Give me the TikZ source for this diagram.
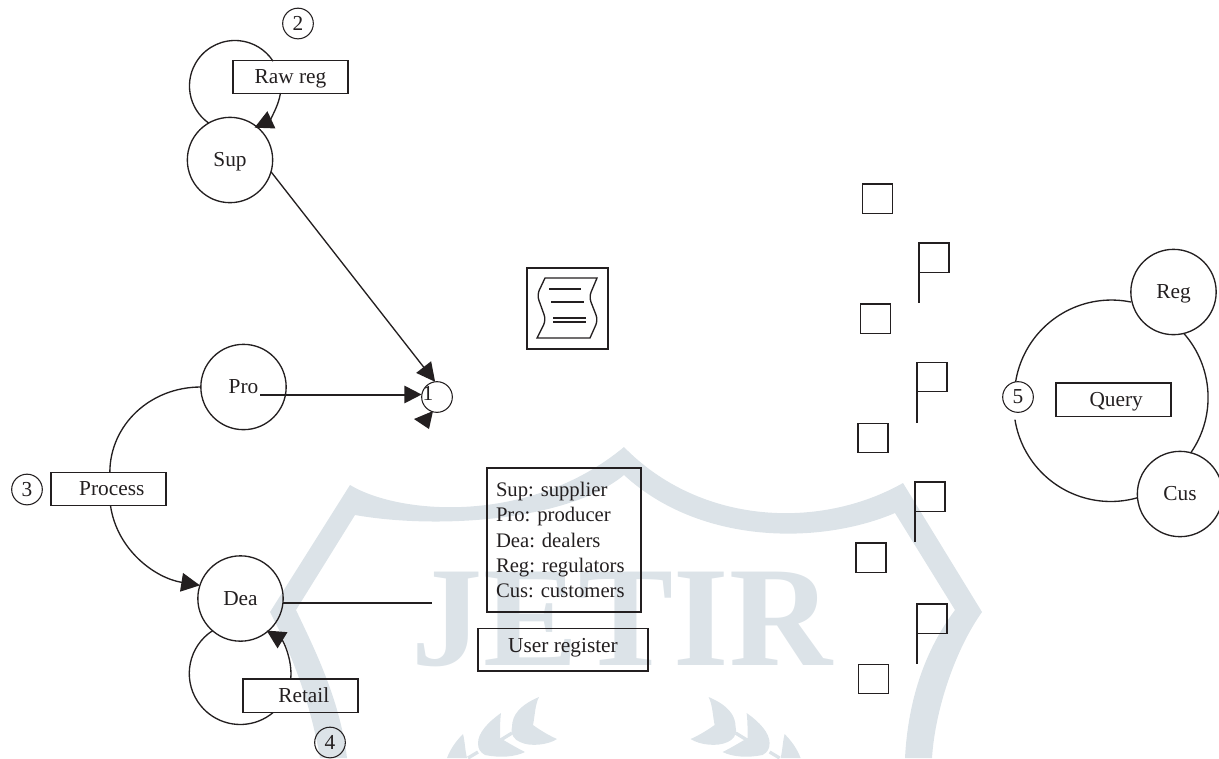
\documentclass[tikz,border=0pt]{standalone}
\usepackage{fontspec}
\setmainfont{Liberation Serif}
\usetikzlibrary{arrows.meta,calc}
\definecolor{ink}{HTML}{231F20}
\definecolor{wm}{HTML}{DCE3E8}
\tikzset{
  lbl/.style={font=\fontsize{16}{19}\selectfont,text=ink,text height=10pt,text depth=0pt},
  actor/.style={circle,draw=ink,line width=1pt,inner sep=0pt,outer sep=0pt,minimum size=64pt,lbl},
  numc/.style={circle,draw=ink,line width=.8pt,inner sep=0pt,outer sep=0pt,minimum size=23pt,lbl},
  opbox/.style={rectangle,draw=ink,line width=1pt,inner sep=0pt,outer sep=0pt,minimum width=86.25pt,minimum height=25pt,lbl},
  sq/.style={rectangle,draw=ink,line width=1pt,inner sep=0pt,outer sep=0pt,minimum width=22.5pt,minimum height=22pt},
  link/.style={draw=ink,line width=1pt},
  tri/.style={link,-{Triangle[length=14pt,width=14pt]}},
  trib/.style={draw=ink,line width=1.5pt,-{Triangle[length=13pt,width=13pt]}},
  pole/.style={draw=ink,line width=1pt},
}
\newcommand{\laurel}{%
  \fill[wm] (539,697) .. controls (520,705) and (512,715) .. (512,727) .. controls (510,735) and (515,740) .. (520,742) .. controls (530,747) and (548,745) .. (557,739) .. controls (548,735) and (540,730) .. (533,725) .. controls (535,715) and (535,705) .. (539,697) -- cycle;
  \fill[wm] (501,713) .. controls (488,722) and (478,733) .. (478,743) .. controls (478,749) and (480,752) .. (485,755) .. controls (500,758) and (515,757) .. (525,752) .. controls (515,747) and (507,742) .. (500,738) .. controls (500,730) and (500,720) .. (501,713) -- cycle;
  \fill[wm] (463,734) .. controls (455,742) and (450,750) .. (447,758) -- (467,758) .. controls (465,750) and (465,742) .. (463,734) -- cycle;
  \draw[wm,line width=2.5pt] (512,733) -- (499,741);
  \draw[wm,line width=2.5pt] (478,752) -- (468,758);
}
\frenchspacing
\begin{document}
\begin{tikzpicture}[x=0.75pt,y=-0.75pt]
\useasboundingbox (0,0) rectangle (1219,758);
% watermark
\fill[wm] (320,758) .. controls (310,700) and (290,650) .. (270,612) -- (350,485)
  .. controls (400,515) and (530,525) .. (624,447)
  .. controls (700,525) and (820,530) .. (903,483) -- (982,612)
  .. controls (955,650) and (935,710) .. (932,758) -- (905,758)
  .. controls (908,700) and (925,650) .. (955,610) -- (895,513)
  .. controls (820,545) and (700,545) .. (624,475)
  .. controls (570,520) and (440,530) .. (355,515) -- (296,610)
  .. controls (315,650) and (340,700) .. (347,758) -- cycle;
\node[anchor=base,inner sep=0pt,text=wm,font=\fontsize{107}{107}\selectfont\bfseries] (wmark) at (622,665) {JETIR};
\laurel
\begin{scope}[shift={(1247.6,0)},xscale=-1]
\laurel
\end{scope}
% actors
\node[actor] (sup) at (230,160) {Sup};
\node[actor] (pro) at (243.5,387) {Pro};
\node[actor] (dea) at (240.5,598.5) {Dea};
\node[actor] (reg) at (1173.5,292) {Reg};
\node[actor] (cus) at (1180,494) {Cus};
% operation boxes
\node[opbox] (raw) at (290.5,77) {Raw reg};
\node[opbox] (proc) at (108.5,489) {\hspace*{5pt}Process};
\node[opbox] (retail) at (300.5,695.5) {\hspace*{5pt}Retail};
\node[opbox] (query) at (1113.5,399.5) {\hspace*{4pt}Query};
\node[opbox,minimum width=127.5pt,minimum height=32pt] (user) at (563,649.5) {\raisebox{2.4pt}{User register}};
% numbers
\node[numc] (n2) at (298,23.5) {2};
\node[numc] (n3) at (27,489.5) {3};
\node[numc] (n4) at (330,742.5) {4};
\node[numc] (n5) at (1018,397) {5};
\node[numc] (dot) at (437,397) {};
\node[lbl,inner sep=0pt] (one) at (428,394) {1};
% legend
\node[rectangle,draw=ink,line width=1pt,inner xsep=6.75pt,inner ysep=0pt,outer sep=0pt,text width=102pt,minimum height=108pt,align=left,text=ink,font=\fontsize{15.5}{19}\selectfont] (legend) at (564,540)
 {Sup: supplier\\Pro: producer\\Dea: dealers\\Reg: regulators\\Cus: customers};
% document icon
\node[rectangle,draw=ink,line width=1pt,inner sep=0pt,outer sep=0pt,minimum width=60.75pt,minimum height=60.75pt] (doc) at (567.5,308.5) {};
\draw[link] (545,278) -- (597,278) [rounded corners=4pt] -- (589,297) -- (598,320) [sharp corners] -- (590,338) -- (537,338) [rounded corners=4pt] -- (546,320) -- (537,295) [sharp corners] -- cycle;
\draw[link] (549,289) -- (581,289);
\draw[link] (551,302) -- (584,302);
\draw[link,line width=.8pt] (553,318) -- (586,318);
\draw[link,line width=.8pt] (553,322) -- (586,322);
% squares and flags
\node[sq] (s1) at (877.5,198.5) {};
\node[sq] (s2) at (875.5,318.5) {};
\node[sq] (s3) at (873,438) {};
\node[sq] (s4) at (871,557.5) {};
\node[sq] (s5) at (873.5,679) {};
\node[sq] (f1) at (934,257.5) {};
\node[sq] (f2) at (932,377) {};
\node[sq] (f3) at (930,496.5) {};
\node[sq] (f4) at (932,618.5) {};
\draw[pole] (f1.south west) -- ++(0,31);
\draw[pole] (f2.south west) -- ++(0,31);
\draw[pole] (f3.south west) -- ++(0,31);
\draw[pole] (f4.south west) -- ++(0,31);
% connectors
\draw[link] (sup.120) arc[start angle=234.7,end angle=33,radius=34.1pt];
\coordinate (rawout) at (280.5,93);
\draw[tri] (rawout) arc[start angle=-8.75,end angle=-65,radius=34.5pt];
\draw[link] (dea.229) arc[start angle=123,end angle=310,radius=38.25pt];
\coordinate (retout) at (290.8,678);
\draw[tri] (retout) arc[start angle=-4.5,end angle=58.5,radius=38.25pt];
\draw[link] (pro.west) .. controls (150,387) and (110,425) .. ([xshift=1pt]proc.north);
\draw[tri] ([xshift=1.5pt]proc.south) .. controls (117,550) and (155,578) .. (dea.162);
\coordinate (proout) at (260,394.5);
\draw[trib] (proout) -- (dot.west |- proout);
\draw[tri] (sup.-16) -- (dot.97);
\fill[ink] (433,411) -- (414,419) -- (429,429) -- cycle;
\coordinate (deaend) at (432,603.4);
\draw[link] (dea.-6) -- (dea.-6 -| deaend);
\draw[link] (n5.99) arc[start angle=171,end angle=78.4,radius=72.75pt];
\draw[link] (reg.284) arc[start angle=41.4,end angle=-35,radius=72.75pt];
\draw[link] (cus.185) arc[start angle=286,end angle=189,radius=72.75pt];
\end{tikzpicture}
\end{document}
